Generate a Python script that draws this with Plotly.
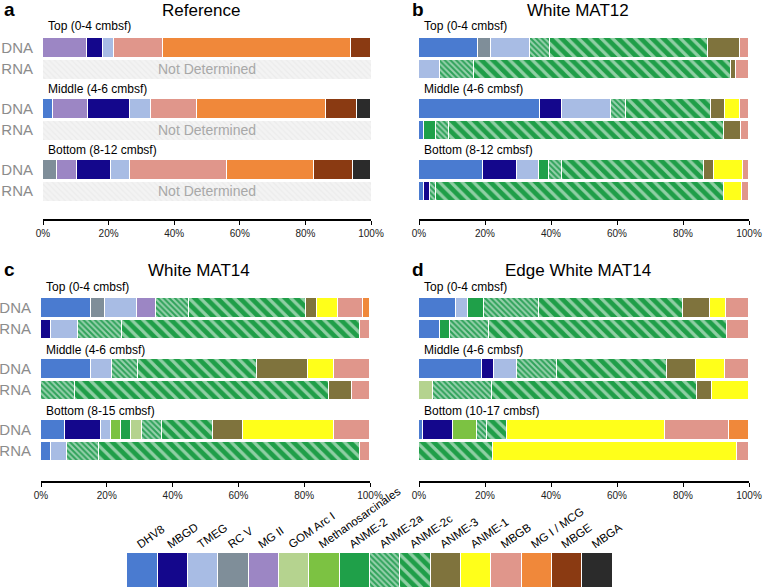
import plotly.graph_objects as go

W, H = 764, 588

taxa = ["DHV8", "MBGD", "TMEG", "RC V", "MG II", "GOM Arc I", "Methanosarcinales",
        "ANME-2", "ANME-2a", "ANME-2c", "ANME-3", "ANME-1", "MBGB", "MG I / MCG",
        "MBGE", "MBGA"]
colors = ["#4a7bd0", "#14078c", "#a8bce4", "#7f8e99", "#9c86c4", "#b5d38f", "#7cc242",
          "#1fa049", "#2fa25a", "#1f9e48", "#7f733d", "#ffff1a", "#e0968b", "#f0883a",
          "#8a3a12", "#2b2b2b"]
# hatched taxa: (pattern size, solidity of the white lines)
hatch = {"ANME-2a": (4, 0.5), "ANME-2c": (8, 0.4)}

pct_ticks = [0, 20, 40, 60, 80, 100]
pct_labels = ["0%", "20%", "40%", "60%", "80%", "100%"]

# ---- a: Reference
ref_depths = ["Top (0-4 cmbsf)", "Middle (4-6 cmbsf)", "Bottom (8-12 cmbsf)"]
ref_dna = [
    [("MG II", 13.5), ("MBGD", 4.7), ("TMEG", 3.4), ("MBGB", 15.1), ("MG I / MCG", 57.2), ("MBGE", 6.1)],
    [("DHV8", 3.0), ("MG II", 10.8), ("MBGD", 12.7), ("TMEG", 6.4), ("MBGB", 14.1),
     ("MG I / MCG", 39.3), ("MBGE", 9.3), ("MBGA", 4.4)],
    [("RC V", 4.4), ("MG II", 5.9), ("MBGD", 10.3), ("TMEG", 5.9), ("MBGB", 29.7),
     ("MG I / MCG", 26.5), ("MBGE", 11.9), ("MBGA", 5.4)],
]
ref_rna = [None, None, None]

# ---- b: White MAT12
mat12_depths = ["Top (0-4 cmbsf)", "Middle (4-6 cmbsf)", "Bottom (8-12 cmbsf)"]
mat12_dna = [
    [("DHV8", 17.8), ("RC V", 3.9), ("TMEG", 11.9), ("ANME-2a", 6.1), ("ANME-2c", 47.8),
     ("ANME-3", 9.9), ("MBGB", 2.6)],
    [("DHV8", 36.7), ("MBGD", 6.5), ("TMEG", 15.1), ("ANME-2a", 4.5), ("ANME-2c", 25.7),
     ("ANME-3", 4.3), ("ANME-1", 4.6), ("MBGB", 2.6)],
    [("DHV8", 19.5), ("MBGD", 10.1), ("TMEG", 6.7), ("ANME-2", 3.2), ("ANME-2a", 3.7),
     ("ANME-2c", 43.1), ("ANME-3", 3.2), ("ANME-1", 8.6), ("MBGB", 1.9)],
]
mat12_rna = [
    [("TMEG", 6.4), ("ANME-2a", 10.3), ("ANME-2c", 77.9), ("ANME-3", 1.6), ("MBGB", 3.8)],
    [("DHV8", 1.6), ("ANME-2", 3.5), ("ANME-2a", 3.9), ("ANME-2c", 83.4), ("ANME-3", 5.2), ("MBGB", 2.4)],
    [("DHV8", 1.6), ("MBGD", 1.8), ("ANME-2a", 1.8), ("ANME-2c", 87.2), ("ANME-1", 5.5), ("MBGB", 2.1)],
]

# ---- c: White MAT14
mat14_depths = ["Top (0-4 cmbsf)", "Middle (4-6 cmbsf)", "Bottom (8-15 cmbsf)"]
mat14_dna = [
    [("DHV8", 15.2), ("RC V", 4.1), ("TMEG", 9.8), ("MG II", 5.9), ("ANME-2a", 10.0),
     ("ANME-2c", 35.5), ("ANME-3", 3.5), ("ANME-1", 6.4), ("MBGB", 7.6), ("MG I / MCG", 2.0)],
    [("DHV8", 15.2), ("TMEG", 6.3), ("ANME-2a", 7.9), ("ANME-2c", 36.1), ("ANME-3", 15.7),
     ("ANME-1", 7.9), ("MBGB", 10.9)],
    [("DHV8", 7.3), ("MBGD", 10.9), ("TMEG", 3.1), ("Methanosarcinales", 3.0), ("ANME-2", 3.1),
     ("GOM Arc I", 3.2), ("ANME-2a", 6.3), ("ANME-2c", 15.3), ("ANME-3", 9.1), ("ANME-1", 27.8),
     ("MBGB", 10.9)],
]
mat14_rna = [
    [("MBGD", 2.9), ("TMEG", 8.2), ("ANME-2a", 13.6), ("ANME-2c", 72.3), ("MBGB", 3.0)],
    [("ANME-2a", 10.3), ("ANME-2c", 77.3), ("ANME-3", 7.0), ("MBGB", 5.4)],
    [("DHV8", 2.9), ("TMEG", 4.9), ("ANME-2a", 9.9), ("ANME-2c", 79.3), ("MBGB", 3.0)],
]

# ---- d: Edge White MAT14
edge_depths = ["Top (0-4 cmbsf)", "Middle (4-6 cmbsf)", "Bottom (10-17 cmbsf)"]
edge_dna = [
    [("DHV8", 11.2), ("TMEG", 3.6), ("ANME-2", 4.8), ("ANME-2a", 16.9), ("ANME-2c", 43.4),
     ("ANME-3", 8.2), ("ANME-1", 5.0), ("MBGB", 6.9)],
    [("DHV8", 19.1), ("MBGD", 3.5), ("TMEG", 7.1), ("ANME-2a", 12.1), ("ANME-2c", 33.5),
     ("ANME-3", 8.6), ("ANME-1", 8.9), ("MBGB", 7.2)],
    [("DHV8", 1.3), ("MBGD", 8.9), ("Methanosarcinales", 7.4), ("ANME-2a", 3.1), ("ANME-2c", 6.0),
     ("ANME-1", 47.7), ("MBGB", 19.4), ("MG I / MCG", 6.2)],
]
edge_rna = [
    [("DHV8", 6.3), ("ANME-2", 3.2), ("ANME-2a", 11.6), ("ANME-2c", 72.2), ("MBGB", 6.7)],
    [("GOM Arc I", 4.2), ("ANME-2a", 17.9), ("ANME-2c", 62.1), ("ANME-3", 4.6), ("ANME-1", 11.2)],
    [("ANME-2c", 22.5), ("ANME-1", 73.8), ("MBGB", 3.7)],
]

FONT = "Liberation Sans, Arial, Helvetica, sans-serif"
ROW_PITCH, RNA_STEP, BAR_W = 61, 21.5, 19.5
TOP_PAD = 33  # room above the first bar (px) for the depth label

panels = [
    # letter, title, depths, dna, rna, x px domain, (first DNA bar centre, axis line) px, DNA/RNA labels
    ("a", "Reference", ref_depths, ref_dna, ref_rna, (43, 371), (47.5, 219), True),
    ("b", "White MAT12", mat12_depths, mat12_dna, mat12_rna, (419, 749), (47.5, 219), False),
    ("c", "White MAT14", mat14_depths, mat14_dna, mat14_rna, (41, 370), (307.5, 481), True),
    ("d", "Edge White MAT14", edge_depths, edge_dna, edge_rna, (419, 749), (307.5, 481), False),
]

fig = go.Figure()
annotations = []


def marker_for(taxon):
    k = taxa.index(taxon)
    m = dict(color=colors[k], line=dict(color="white", width=1))
    if taxon in hatch:
        size, sol = hatch[taxon]
        m["pattern"] = dict(shape="\\", size=size, solidity=sol, fgcolor="white")
    return m


for p, (letter, title, depths, dna, rna, xd, yd, labels) in enumerate(panels):
    n = p + 1
    xa, ya = ("x", "y") if n == 1 else (f"x{n}", f"y{n}")
    tickvals, ticktext = [], []
    for i in range(3):
        y_dna = i * ROW_PITCH
        y_rna = y_dna + RNA_STEP
        tickvals += [y_dna, y_rna]
        ticktext += ["DNA", "RNA"]
        for taxon, val in dna[i]:
            fig.add_trace(go.Bar(y=[y_dna], x=[val], orientation="h", width=BAR_W,
                                 marker=marker_for(taxon), name=taxon, showlegend=False,
                                 xaxis=xa, yaxis=ya))
        if rna[i] is None:
            fig.add_trace(go.Bar(y=[y_rna], x=[100], orientation="h", width=BAR_W,
                                 marker=dict(color="#f3f3f3", line=dict(width=0),
                                             pattern=dict(shape="\\", size=4, solidity=0.3,
                                                          fgcolor="#e3e3e3")),
                                 showlegend=False, xaxis=xa, yaxis=ya))
            annotations.append(dict(text="Not Determined", xref=xa, yref=ya, x=50, y=y_rna,
                                    xanchor="center", yanchor="middle", showarrow=False,
                                    font=dict(size=14, color="#a8a8a8", family=FONT)))
        else:
            for taxon, val in rna[i]:
                fig.add_trace(go.Bar(y=[y_rna], x=[val], orientation="h", width=BAR_W,
                                     marker=marker_for(taxon), name=taxon, showlegend=False,
                                     xaxis=xa, yaxis=ya))
        annotations.append(dict(text=depths[i], xref=xa, yref=ya, x=0, y=y_dna - 19 - (i == 0) * 2,
                                xshift=3, xanchor="left", yanchor="middle", showarrow=False,
                                font=dict(size=12, color="black", family=FONT)))

    top_px = yd[0] - TOP_PAD
    layout_x = dict(domain=[xd[0] / W, xd[1] / W], range=[0, 100], anchor=ya,
                    tickvals=pct_ticks, ticktext=pct_labels, ticks="outside", ticklen=4,
                    tickwidth=1.2, tickcolor="black", showline=True, linecolor="black",
                    linewidth=1.5, showgrid=False, zeroline=False, automargin=False,
                    tickfont=dict(size=10, color="#222", family=FONT))
    layout_y = dict(domain=[1 - yd[1] / H, 1 - top_px / H],
                    range=[yd[1] - yd[0], -TOP_PAD],
                    anchor=xa, showgrid=False, zeroline=False, showline=False,
                    tickvals=tickvals, ticktext=ticktext, showticklabels=labels,
                    automargin=False, ticklabelstandoff=9,
                    tickfont=dict(size=15, color="#8c8c8c", family=FONT))
    fig.update_layout({("xaxis" if n == 1 else f"xaxis{n}"): layout_x,
                       ("yaxis" if n == 1 else f"yaxis{n}"): layout_y})

    cx = (xd[0] + xd[1]) / 2 - 6
    annotations.append(dict(text=title, xref="paper", yref="paper", x=cx / W,
                            y=1 - (yd[0] - 37) / H, xanchor="center", yanchor="middle",
                            showarrow=False, font=dict(size=17, color="black", family=FONT)))
    lx = 2 if xd[0] < 100 else 410
    annotations.append(dict(text=f"<b>{letter}</b>", xref="paper", yref="paper", x=lx / W,
                            y=1 - (yd[0] - 38) / H, xanchor="left", yanchor="middle",
                            showarrow=False, font=dict(size=19, color="black", family=FONT)))

# ---- colour key at the bottom
key_shapes = ["\\" if t in hatch else "" for t in taxa]
key_sizes = [hatch[t][0] if t in hatch else 8 for t in taxa]
key_sol = [hatch[t][1] if t in hatch else 0.3 for t in taxa]
fig.add_trace(go.Bar(x=taxa, y=[1] * len(taxa), width=0.97,
                     marker=dict(color=colors, line=dict(width=0),
                                 pattern=dict(shape=key_shapes, size=key_sizes,
                                              solidity=key_sol, fgcolor="white")),
                     showlegend=False, xaxis="x5", yaxis="y5"))
fig.update_layout(
    xaxis5=dict(domain=[127 / W, 612 / W], anchor="y5", side="top", tickangle=-35,
                showgrid=False, zeroline=False, showline=False, ticks="", automargin=False,
                ticklabelshift=-5,
                tickfont=dict(size=11.5, color="black", family=FONT)),
    yaxis5=dict(domain=[1 - 587 / H, 1 - 553 / H], range=[0, 1], anchor="x5",
                showgrid=False, zeroline=False, showticklabels=False, automargin=False),
)

fig.update_layout(
    width=W, height=H, barmode="stack", bargap=0,
    margin=dict(l=0, r=0, t=0, b=0),
    plot_bgcolor="white", paper_bgcolor="white",
    font=dict(family=FONT),
    annotations=annotations,
)

# the page body has a default 8px margin; drop it so the figure sits at the window corner
fig.write_html("out.html", config={"displayModeBar": False},
               post_script="document.body.style.margin='0';")
